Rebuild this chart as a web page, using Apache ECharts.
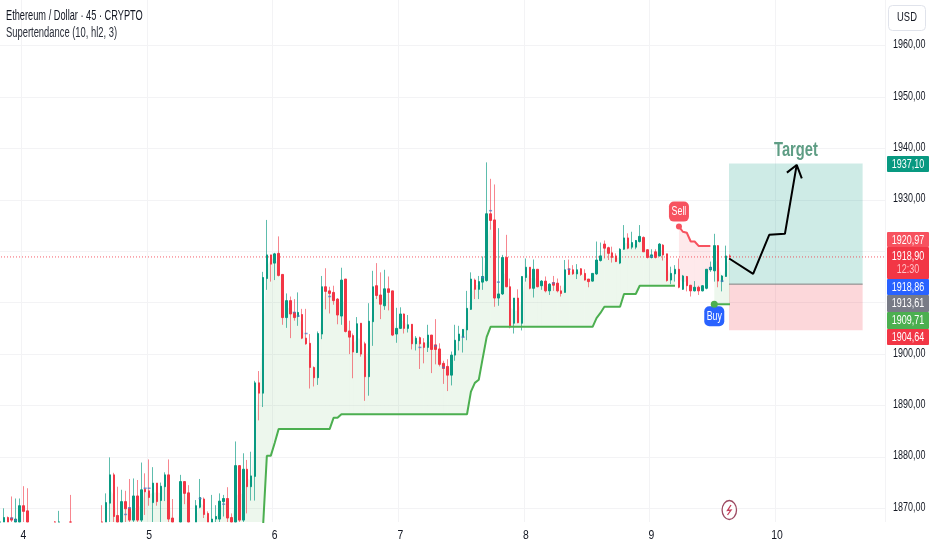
<!DOCTYPE html>
<html><head><meta charset="utf-8">
<style>html,body{margin:0;padding:0;background:#fff}#c{width:932px;height:550px}</style>
<script src="https://cdn.jsdelivr.net/npm/echarts@6/dist/echarts.min.js"></script>
</head><body><div id="c"></div>
<script>
const FONT='"Liberation Sans",sans-serif';
const GREEN='#089981',RED='#f23645',LINEGREEN='#4caf50',LINERED='#f7525f',BLUE='#2962ff';
// bar count on the category axis and the first bar of each day
const barCount=226;
const dayTicks={6:'4',38:'5',70:'6',102:'7',134:'8',166:'9',198:'10'};
const priceTicks=[1870,1880,1890,1900,1910,1920,1930,1940,1950,1960];
const axisMin=1867.33,axisMax=1968.89;
// [open, close, low, high]
const candles=[
[1866.5,1865,1864,1871.6],[1866,1868.2,1865,1870],[1868.2,1866,1865,1868.4],[1868.1,1867.7,1866.5,1872.3],[1866,1867.9,1865,1871.9],[1866,1870.5,1865,1871.9],[1870.5,1869.4,1866,1874.3],[1869.5,1865,1864,1873.9],
[1865,1864,1862,1866],[1864,1865,1863,1866],[1865,1863.5,1862,1866],[1863.5,1865,1862,1866.5],[1865,1864,1862,1866],[1864,1865.5,1863,1866],[1865,1866,1863,1867.5],[1864.5,1866,1863,1869.5],
[1866,1864,1863,1866.5],[1864,1865,1863,1866],[1866.5,1865,1864,1872.6],[1865,1864,1862,1866],[1864,1865,1863,1866],[1865,1863.5,1862,1866],[1863.5,1865,1862,1866],[1865,1864,1863,1866.5],[1864,1865.5,1863,1866.5],[1865.5,1864,1863,1866.5],
[1864,1866,1863,1870.6],[1866,1871.1,1864,1872.9],[1871,1876.5,1867,1879.9],[1876.5,1868.4,1867,1876.9],[1868.6,1866,1865,1874.2],[1866,1871.3,1865,1873.6],[1871.3,1869.9,1867,1873.4],[1870,1867.7,1867,1875.7],[1867.7,1872.4,1867,1875.8],[1872.4,1867.7,1867,1875.5],[1867.7,1873.6,1867,1878.9],[1873.7,1873.2,1868.7,1876.8],[1873.4,1872.1,1870.5,1879.5],[1871.1,1874.9,1867,1878],[1874.9,1871.3,1870.5,1874.9],[1871.5,1874.3,1867,1875],[1874.2,1876.5,1871.4,1877],[1876.5,1867.9,1867,1879.5],[1868.1,1866,1865,1871.8],[1866,1865,1864,1866.5],[1866,1875.2,1865,1876.5],[1875.2,1872.9,1870.8,1875.3],[1873,1866,1865,1874.5],[1866,1865,1864,1866.5],[1866,1870.5,1865,1871.6],[1870.2,1872.1,1870,1875.7],[1871.8,1868.8,1868.1,1872.1],[1869,1866,1865,1869.4],[1866,1867.9,1865,1872.6],[1867.9,1868.4,1866,1870.6],[1867.9,1871.4,1866,1872.9],[1871.3,1871.9,1868.4,1872.6],[1871.9,1868.1,1866,1874.1],[1868.2,1866,1865,1869],[1866,1878.3,1865,1883],[1878.3,1867.7,1866,1878.3],[1867.7,1877.6,1866,1880.7],[1877.6,1874.2,1869,1879.4],[1874.2,1876.3,1871.5,1881],[1876.2,1894.4,1871.5,1894.8],[1894.4,1892.4,1887.1,1896.7],[1892.4,1914.9,1889.7,1916],[1914.7,1919.3,1912.5,1926.1],[1919.3,1917.5,1914.1,1919.3],[1917.7,1919.5,1914.4,1919.7],[1919.6,1915.3,1915.1,1922.9],[1915.5,1907.1,1905.7,1915.5],[1907.1,1910.4,1905.1,1911.8],[1910.4,1907.8,1903.1,1911.2],[1908.1,1907.1,1906.5,1910.7],[1907.3,1908.1,1905.5,1912],
[1907.7,1903.1,1902.9,1908.8],[1903.1,1902,1901.8,1908.8],[1902.1,1897.4,1893.3,1903.9],[1897.4,1895.4,1893.7,1897.6],[1895.4,1904,1894,1904.4],[1903.9,1913.1,1902.9,1915.2],[1913.1,1912.2,1908.7,1916.7],[1912.3,1911.8,1907.9,1913.1],[1912,1910.4,1909.6,1913.3],[1910.7,1907.6,1905.8,1910.9],[1907.4,1914.4,1905.7,1916.8],[1914.6,1904.4,1904.2,1914.6],[1904.5,1903.3,1900,1906.5],[1903.6,1900.4,1895.3,1904],[1900.3,1905.9,1900.2,1907.2],[1906,1900,1899.5,1906],[1902,1895.6,1890.9,1902.4],[1895.6,1906.4,1891.9,1909.9],[1906.3,1913.1,1901.6,1916.2],[1913.3,1911.4,1910.7,1917.7],[1911.5,1909.7,1906.8,1915.9],[1909.4,1912.7,1908.6,1916.4],[1912.7,1912,1908.5,1915.1],[1912.3,1903.7,1903.5,1912.3],[1903.9,1905,1902.2,1909],[1905,1907.8,1905,1909.1],[1907.8,1905,1904,1907.9],[1905,1905.7,1904.2,1907.6],[1905.8,1902,1900.9,1905.8],[1902,1903.1,1900.7,1903.5],[1903.2,1902,1897.1,1903.4],[1902.2,1901.3,1898.2,1903.1],[1901.3,1903.7,1900.4,1905.7],[1903.7,1900.9,1896.3,1903.7],[1901.8,1900.9,1898,1906.8],[1901,1898,1897.6,1902.1],[1898.2,1897.2,1894.2,1898.7],[1897.6,1895.9,1892.8,1899],[1895.9,1899.8,1893.9,1900.5],[1899.8,1902.7,1898.7,1905.7],[1902.6,1903.9,1900.7,1905.5],[1903.3,1904.8,1900.3,1904.8],
[1904.7,1908.9,1902.7,1912.3],[1908.7,1914.6,1908.6,1915.9],[1914.4,1912.6,1910.7,1914.7],[1912.6,1914.1,1910.7,1915.2],[1914,1915.1,1912.5,1919],[1914.3,1927.3,1914.1,1937.3],[1927.3,1926,1924.2,1934.1],[1926.1,1910.9,1909.2,1933],[1910.9,1911.7,1909.4,1924.5],[1911.7,1918.8,1911.5,1919.3],[1918.8,1913.1,1913,1923.2],[1913.1,1905.3,1905,1914.7],[1906,1910.9,1904,1910.9],[1910.9,1906.1,1906,1912.6],[1906,1915.1,1904.6,1915.1],[1914.9,1916.9,1914.1,1918.6],[1916.9,1912.8,1912.6,1916.9],[1912.8,1916.5,1911,1918.4],[1916.5,1913.1,1913,1916.5],[1913.3,1914.2,1912.5,1914.4],[1914.2,1912.3,1912,1915.1],[1912.3,1913.6,1911.5,1913.8],[1913.9,1913.4,1912.3,1915.2],[1913.8,1912.3,1912,1914.7],[1912.3,1911.8,1911.2,1913.3],[1912,1916.4,1912,1918.3],[1916.6,1915.5,1915.4,1918.4],[1916.4,1915.6,1915.4,1917.3],[1915.6,1916.4,1914.6,1917.5],[1916.6,1915.5,1915.2,1916.7],[1915.7,1914.4,1914.3,1916.5],[1914.6,1914.1,1913,1914.6],[1914.2,1915.7,1914.1,1915.7],[1915.6,1918.3,1915.4,1921.9],[1918.2,1919.1,1918,1921.7],[1921.4,1920.6,1918.6,1922.1],[1920.7,1919.6,1918.3,1920.9],[1919.7,1918.8,1917.8,1920.9],[1919.1,1918,1917.9,1919.6],[1917.7,1920.4,1917.5,1920.6],[1920.4,1922.6,1920.3,1925.1],[1922.6,1920.6,1920.4,1923.5],[1920.8,1921.7,1920.4,1923.8],[1920.8,1922.1,1920.4,1922.2],[1921.9,1922.9,1921.7,1925.1],[1922.7,1919.9,1919.9,1922.9],[1920.3,1918.8,1918.6,1920.4],[1918.8,1919.3,1918.6,1920.4],[1919.9,1918.8,1918.6,1920.4],[1919.1,1921.4,1919,1921.6],[1921.2,1919.3,1918.2,1921.4],[1919.5,1914.3,1914.1,1919.5],[1914.4,1915.7,1913.6,1917],[1915.6,1916.5,1914.1,1917.3],[1916.5,1913,1912.8,1918.6],[1912.6,1915.2,1912.5,1915.4],[1915.1,1913.3,1912.2,1915.2],[1913.4,1912.3,1911.2,1913.4],[1912.3,1913,1912.2,1914.2],[1913,1912.3,1911.5,1913.3],[1912.3,1913.3,1912.2,1913.4],[1912.8,1916.5,1912.6,1916.5],[1916.4,1916.9,1916,1918],[1916.2,1921.1,1914.1,1923.4],[1921.1,1914.2,1913,1921.2],[1914.1,1915.2,1912.2,1915.4],[1915.1,1919.1,1915.1,1921.1],[1919.1,1918.9,1918.7,1919.4]
];
// supertrend as [first bar, level]; a level holds until the next entry
const trendUp=[[28,1860],[67,1866],[68,1880.2],[70,1882.7],[71,1885.4],[85,1887.6],[87,1888.3],[120,1892.7],[121,1894.4],[122,1895],[123,1899.2],[124,1903.3],[125,1905.3],[152,1907],[153,1908],[154,1909.2],[159,1911.7],[163,1913.3]];
const trendUpEnd=172;
const trendDown=[[173,1924.8],[174,1923.8],[175,1923.6],[176,1921.9],[178,1921.05]];
const trendDownEnd=181;
const trendBuy=[[182,1909.71]];
const trendBuyEnd=186;
// small marks inside candles
const markBars=[3,4,32,33,37,38,51,57,75,76,78,84,107,111,113,118,123,125,127,141,145,166,181,184];
const markPrices=[1868.1,1867.7,1868.8,1870.1,1873.9,1873.9,1871.9,1870.8,1908.1,1907.4,1904,1911.2,1901.3,1901.6,1897.4,1903.3,1914.9,1927.9,1914,1913.8,1916.5,1919,1916.7,1914.2];
// long position tool
const posBars=[185.75,219.8];
const targetPrice=1937.1,entryPrice=1913.61,stopPrice=1904.64;
const arrowBars=[185.8,191.9,196,200,203];
const arrowPrices=[1918.6,1915.6,1923.2,1923.4,1936.8];
const arrowHeadBars=[200.5,203,204.3];
const arrowHeadPrices=[1935.3,1936.8,1934.2];
const targetLabelBar=202.8,targetLabelPrice=1939.7;
const lastPrice=1918.9;
const tagTexts=['1937,10','1920,97','1918,90','12:30','1918,86','1913,61','1909,71','1904,64'];

const expand=(segs,end)=>{const o=new Array(barCount).fill(null);segs.forEach((s,k)=>{const to=k+1<segs.length?segs[k+1][0]-1:end;for(let i=s[0];i<=to;i++)o[i]=s[1];});return o;};
const up=expand(trendUp,trendUpEnd),down=expand(trendDown,trendDownEnd),buy=expand(trendBuy,trendBuyEnd);
const mid=candles.map(c=>(c[0]+c[1])/2);
// candlesticks are not clipped by the grid, so anything under the axis floor is cut here
const floor=v=>Math.max(v,axisMin);
const visible=(c)=>c[3]>axisMin;
const wicks=candles.map(c=>visible(c)?c.map(floor):['-','-','-','-']);
const bodies=candles.map(c=>visible(c)?[floor(c[0]),floor(c[1]),floor(Math.min(c[0],c[1])),floor(Math.max(c[0],c[1]))]:['-','-','-','-']);
const cats=Array.from({length:barCount},(_,i)=>dayTicks[i]||'');
const isDay=(i)=>dayTicks[i]!==undefined;
const fill=(arr,color)=>{const d=[];for(let i=0;i<candles.length-1;i++){if(arr[i]!=null&&arr[i+1]!=null)d.push([i,mid[i],arr[i],mid[i+1],arr[i+1]]);}
 return {type:'custom',z:1,silent:true,clip:true,data:d,encode:{x:0,y:1},renderItem:(p,api)=>{const i=api.value(0);const a=api.coord([i,api.value(1)]),b=api.coord([i,api.value(2)]),c=api.coord([i+1,api.value(4)]),e=api.coord([i+1,api.value(3)]);
  return {type:'polygon',shape:{points:[a,b,c,e]},style:{fill:color,stroke:null}};}};};
const trendLine=(arr,color)=>({type:'line',z:5,data:arr,showSymbol:false,connectNulls:false,silent:true,clip:true,lineStyle:{color,width:2}});
const flag=(bar,price,color,off)=>({type:'scatter',z:8,silent:true,data:[[bar,price]],symbol:'roundRect',symbolSize:[20,20],symbolOffset:[0,off],itemStyle:{color,opacity:1}});
const dot=(bar,price,color,size)=>({type:'scatter',z:8,silent:true,data:[[bar,price]],symbol:'circle',symbolSize:size,itemStyle:{color,opacity:1}});

const option={
 animation:false,backgroundColor:'#fff',
 grid:{left:-2,right:47,top:0,bottom:28,containLabel:false,outerBoundsMode:'none'},
 xAxis:[{type:'category',data:cats,boundaryGap:true,axisLine:{show:false},axisTick:{show:false},axisLabel:{show:false},
   splitLine:{show:true,interval:(i)=>isDay(i),lineStyle:{color:'#f3f3f5',width:1}}},
  {type:'value',show:false,min:-0.5,max:barCount-0.5,gridIndex:0}],
 yAxis:{type:'value',position:'right',min:axisMin,max:axisMax,splitNumber:10,scale:true,
   axisLine:{show:false},axisTick:{show:false},axisLabel:{show:false},
   splitLine:{show:true,showMinLine:false,showMaxLine:false,lineStyle:{color:'#f3f3f5',width:1}}},
 series:[
  fill(up,'rgba(76,175,80,0.10)'),fill(down,'rgba(242,54,69,0.11)'),fill(buy,'rgba(76,175,80,0.10)'),
  {type:'line',xAxisIndex:1,z:2,data:[],silent:true,
   markArea:{silent:true,itemStyle:{opacity:1},data:[
    [{coord:[posBars[0],targetPrice],itemStyle:{color:'rgba(8,153,129,0.2)'}},{coord:[posBars[1],entryPrice]}],
    [{coord:[posBars[0],entryPrice],itemStyle:{color:'rgba(242,54,69,0.2)'}},{coord:[posBars[1],stopPrice]}]]}},
  {type:'line',xAxisIndex:1,z:3,silent:true,showSymbol:false,data:posBars.map(b=>[b,entryPrice]),lineStyle:{color:'#808080',width:1}},
  {type:'line',xAxisIndex:1,z:3,silent:true,showSymbol:false,data:[[-0.5,lastPrice],[barCount-0.5,lastPrice]],lineStyle:{color:RED,type:[1,2],width:1,opacity:.8}},
  {type:'candlestick',z:3,silent:true,barWidth:1,data:wicks,
   itemStyle:{color:'rgba(8,153,129,0.65)',color0:'rgba(242,54,69,0.6)',borderColor:'rgba(8,153,129,0.65)',borderColor0:'rgba(242,54,69,0.6)',borderWidth:1}},
  {type:'candlestick',z:4,silent:true,barWidth:2,data:bodies,
   itemStyle:{color:GREEN,color0:RED,borderColor:GREEN,borderColor0:RED,borderWidth:1}},
  {type:'scatter',z:4,silent:true,clip:true,data:markBars.map((b,i)=>[b,markPrices[i]]),symbol:'rect',symbolSize:[3,1.5],itemStyle:{color:'#4f77c4',opacity:.75}},
  trendLine(up,LINEGREEN),trendLine(down,LINERED),trendLine(buy,LINEGREEN),
  flag(173,down[173],LINERED,-15),dot(173,down[173],LINERED,6),
  flag(182,buy[182],BLUE,12),dot(182,buy[182],LINEGREEN,7),
  {type:'line',xAxisIndex:1,z:9,silent:true,showSymbol:false,data:arrowBars.map((b,i)=>[b,arrowPrices[i]]),lineStyle:{color:'#000',width:2}},
  {type:'line',xAxisIndex:1,z:9,silent:true,showSymbol:false,data:arrowHeadBars.map((b,i)=>[b,arrowHeadPrices[i]]),lineStyle:{color:'#000',width:2}}
 ]
};
const chart=echarts.init(document.getElementById('c'),null,{renderer:'canvas'});
chart.setOption(option);
// overlay text and tags, placed through the chart's scales and condensed like the reference lettering
const g=[];
const text=(x,y,t,size,color,o)=>{o=o||{};g.push({type:'text',z:o.z||100,x,y,scaleX:o.sx||0.68,style:{text:t,fill:color,fontFamily:FONT,fontSize:size,fontWeight:o.weight||'normal',textAlign:o.align||'left',textVerticalAlign:'middle'}});};
const pxCat=(bar,price)=>chart.convertToPixel({xAxisIndex:0,yAxisIndex:0},[bar,price]);
const pxVal=(bar,price)=>chart.convertToPixel({xAxisIndex:1,yAxisIndex:0},[bar,price]);
priceTicks.forEach(p=>text(893,pxCat(0,p)[1]-1,p.toFixed(2).replace('.',','),13,'#131722',{z:50,sx:0.69}));
Object.keys(dayTicks).forEach(b=>text(pxCat(+b,1900)[0],535,dayTicks[b],13,'#131722',{align:'center',sx:0.8}));
text(6,16,'Ethereum / Dollar · 45 · CRYPTO',14,'#131722',{sx:0.66});
text(6,33,'Supertendance (10, hl2, 3)',14,'#2a2e39',{sx:0.67});
g.push({type:'rect',z:100,shape:{x:888.5,y:5.5,width:37,height:25,r:4},style:{fill:'#fff',stroke:'#e0e3eb',lineWidth:1}});
text(907,18,'USD',12.5,'#131722',{align:'center',sx:0.75});
const tags=[[156,16,GREEN],[232,15,LINERED],[247,32,RED],[279,16,BLUE],[295,17,'#787b86'],[312,17,LINEGREEN],[329,16,RED]];
tags.forEach(t=>g.push({type:'rect',z:100,shape:{x:887,y:t[0],width:42,height:t[1],r:1},style:{fill:t[2]}}));
[[164,0],[240,1],[256,2],[269,3],[287,4],[303.5,5],[320.5,6],[337,7]].forEach(a=>text(908,a[0],tagTexts[a[1]],13,a[1]===3?'#ffc0c5':'#fff',{z:101,align:'center',sx:0.69}));
const sell=pxCat(173,down[173]),bu=pxCat(182,buy[182]);
text(sell[0],sell[1]-15,'Sell',13,'#fff',{align:'center',sx:0.68});
text(bu[0],bu[1]+12,'Buy',13,'#fff',{align:'center',sx:0.68});
const tg=pxVal(targetLabelBar,targetLabelPrice);
text(tg[0],tg[1],'Target',21,'#5e9d84',{align:'center',sx:0.7,weight:'bold'});
// alert icon
g.push({type:'ellipse',z:100,shape:{cx:729.3,cy:510,rx:7.2,ry:9.5},style:{fill:'#fff',stroke:'#9c4a62',lineWidth:1.3}});
g.push({type:'polyline',z:100,shape:{points:[[731,505],[727.5,510.5],[731,510],[727.5,515]]},style:{fill:null,stroke:'#c4405c',lineWidth:1.3}});
chart.setOption({graphic:g});
</script></body></html>
